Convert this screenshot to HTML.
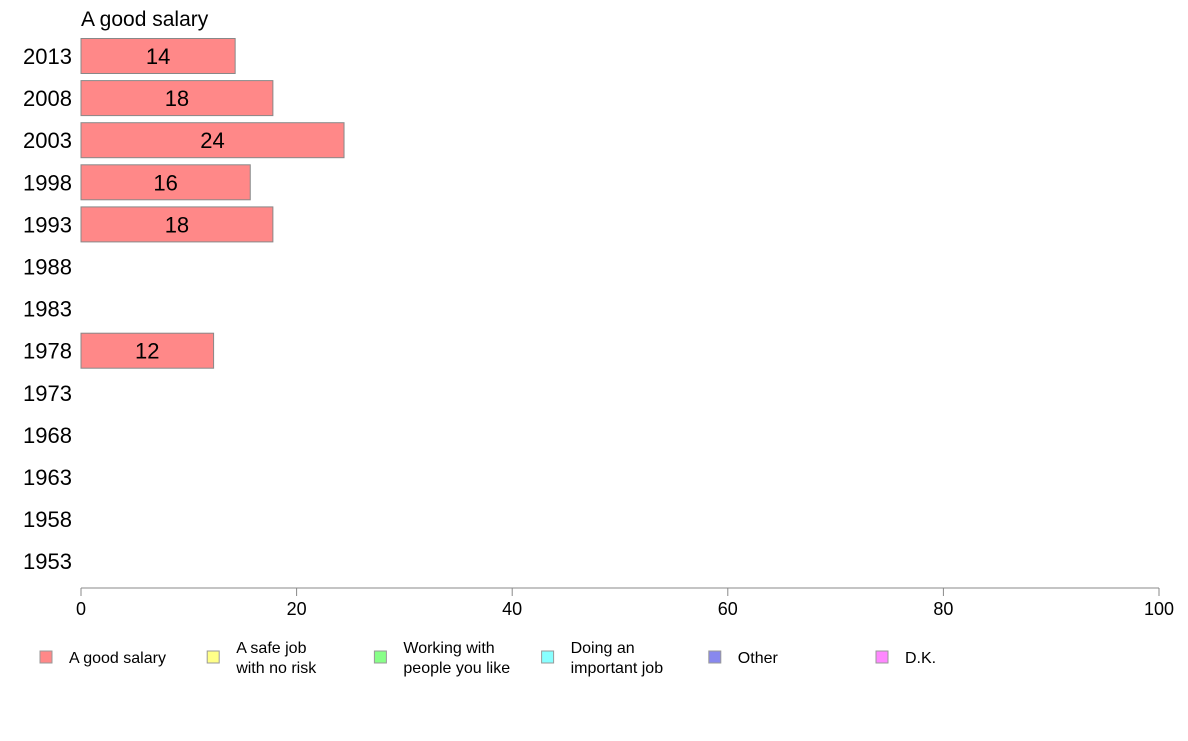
<!DOCTYPE html>
<html><head><meta charset="utf-8"><style>
body{margin:0;background:#fff;font-family:"Liberation Sans",sans-serif;}
svg text{font-family:"Liberation Sans",sans-serif;}
</style></head><body>
<svg id="chart" width="1188" height="736" xmlns="http://www.w3.org/2000/svg">
<text x="81" y="26" font-size="21" fill="#000">A good salary</text>
<g id="bars"></g>
<g id="axis"></g>
<g id="legend"></g>
</svg>
<script>
const years=["2013","2008","2003","1998","1993","1988","1983","1978","1973","1968","1963","1958","1953"];
const values=[14.3,17.8,24.4,15.7,17.8,null,null,12.3,null,null,null,null,null];
const labels=["14","18","24","16","18","","","12","","","","",""];
const ticks=[0,20,40,60,80,100];
const legendNames=[["A good salary"],["A safe job","with no risk"],["Working with","people you like"],["Doing an","important job"],["Other"],["D.K."]];
const legendColors=["#ff8888","#ffff88","#88ff88","#88ffff","#8888ee","#ff88ff"];
const NS="http://www.w3.org/2000/svg";
const x0=81,x1=1159;
const xs=v=>x0+(v/100)*(x1-x0);
const ys=i=>56+i*42.1;
function mk(t,a,p){const e=document.createElementNS(NS,t);for(const k in a)e.setAttribute(k,a[k]);p.appendChild(e);return e;}
const bars=document.getElementById('bars');
years.forEach((y,i)=>{
  const t=mk('text',{x:72,y:ys(i)+8,'font-size':22,'text-anchor':'end',fill:'#000'},bars);
  t.textContent=y;
  
  
  if(values[i]!=null){
    const r=mk('rect',{x:x0,y:ys(i)-17.5,width:xs(values[i])-x0,height:35,fill:'#ff8888',stroke:'#888','stroke-width':1},bars);
    
    
    const l=mk('text',{x:(x0+xs(values[i]))/2,y:ys(i)+8,'font-size':22,'text-anchor':'middle',fill:'#000'},bars);
    l.textContent=labels[i];
    
    
  }
});
const ax=document.getElementById('axis');
const al=mk('line',{x1:x0,x2:x1,y1:588,y2:588,stroke:'#888'},ax);


ticks.forEach(v=>{
  mk('line',{x1:xs(v),x2:xs(v),y1:588,y2:596,stroke:'#888'},ax);
  const t=mk('text',{x:xs(v),y:615,'font-size':18,'text-anchor':'middle',fill:'#000'},ax);
  t.textContent=v;
  
  
});
const lg=document.getElementById('legend');
legendNames.forEach((n,i)=>{
  const bx=40+i*167.2;
  const g=mk('g',{},lg);
  
  
  mk('rect',{x:bx,y:651,width:12,height:12,fill:legendColors[i],stroke:'#999'},g);
  n.forEach((s,j)=>{
    const t=mk('text',{x:bx+29,y:(n.length==1?663:653+j*20),'font-size':16,fill:'#000'},g);
    t.textContent=s;
  });
});
</script>
</body></html>
